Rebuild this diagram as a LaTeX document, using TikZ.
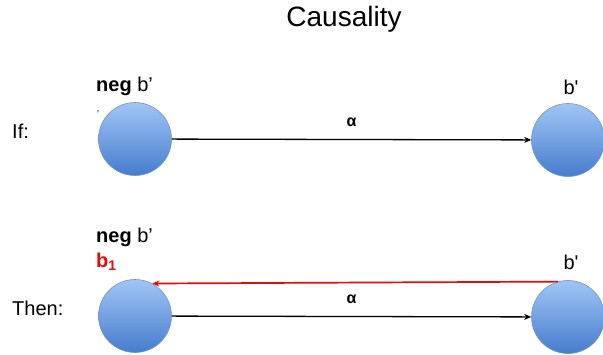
\documentclass[tikz,border=0pt]{standalone}
\usepackage{fontspec}
\setmainfont{Liberation Sans}
\usetikzlibrary{arrows.meta, positioning}
\definecolor{ballTop}{RGB}{160,198,245}
\definecolor{ballBot}{RGB}{70,124,206}
\definecolor{ballEdge}{RGB}{118,146,192}
\definecolor{linkRed}{RGB}{228,10,10}
\tikzset{
  ball/.style={
    circle,
    draw=ballEdge,
    line width=0.6pt,
    top color=ballTop,
    bottom color=ballBot,
    minimum size=73pt,
    inner sep=0pt
  },
  lbl/.style={
    font=\fontsize{20}{22}\selectfont,
    inner sep=0pt
  },
  arrow/.style={
    -{Stealth[length=7pt,width=6pt]},
    line width=1.3pt
  }
}

\begin{document}
\begin{tikzpicture}[x=1pt, y=-1pt]
  \useasboundingbox (0,0) rectangle (603,354);

  % Titre
  \node[font=\fontsize{28}{30}\selectfont] (title) at (344,19) {Causality};

  % Ligne du haut
  \node[lbl, anchor=west] (if) at (12,131) {If:};
  \node[ball] (tl) at (135,139) {};
  \node[ball] (tr) at (568,140) {};
  \node[lbl, anchor=west] (negtop) at (96,86) {\textbf{neg} b’};
  \node[lbl] (btop) at (571,87) {b\textquotesingle};
  \node[font=\fontsize{10}{10}\selectfont, inner sep=0pt] (tick) at (98,114) {’};
  \draw[arrow] (tl) -- node[above=9pt, font=\fontsize{16}{16}\selectfont\bfseries] (atop) {α} (tr);

  % Ligne du bas
  \node[lbl, anchor=west] (then) at (12,308) {Then:};
  \node[ball] (bl) at (135,316) {};
  \node[ball] (br) at (568,317) {};
  \node[lbl, anchor=west] (negbot) at (96,237) {\textbf{neg} b’};
  \node[lbl, anchor=west, text=linkRed, font=\fontsize{20}{22}\selectfont\bfseries] (bone) at (96,262) {b\textsubscript{1}};
  \node[lbl] (bbot) at (571,262) {b\textquotesingle};
  \draw[arrow] (bl) -- node[above=9pt, font=\fontsize{16}{16}\selectfont\bfseries] (abot) {α} (br);

  % Fleche rouge vers b1
  \draw[arrow, linkRed, line width=1.7pt] (br.106) -- (bl.62);

\end{tikzpicture}
\end{document}
